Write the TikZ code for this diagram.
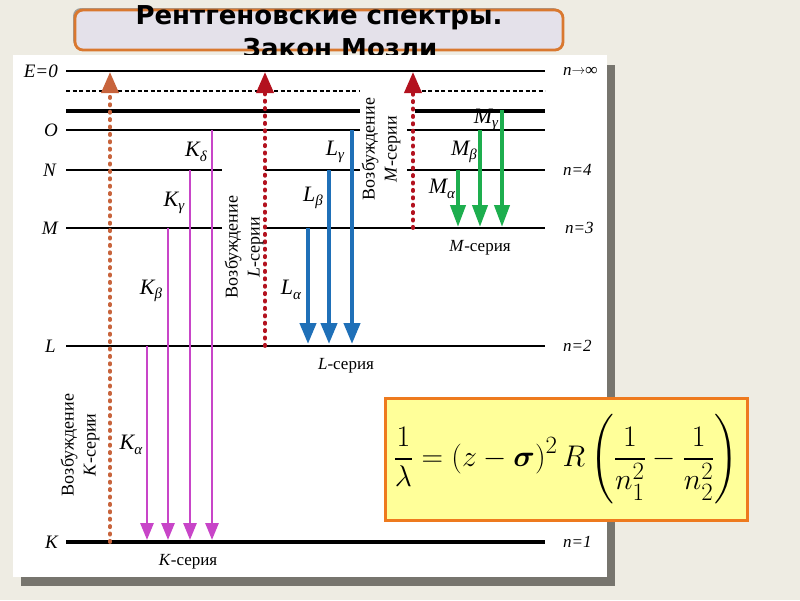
\documentclass[tikz,border=0pt]{standalone}
\usepackage{fontspec}
\usepackage{amsmath}
\usepackage{graphicx}
\setmainfont{Liberation Serif}
\newfontfamily\titlefont{DejaVu Sans}
\usetikzlibrary{arrows.meta}
\definecolor{bgbeige}{HTML}{EEECE3}
\definecolor{shadowgray}{HTML}{77756E}
\definecolor{titlefill}{HTML}{E4E1EA}
\definecolor{titleborder}{HTML}{D9782F}
\definecolor{kexc}{HTML}{C8643C}
\definecolor{lexc}{HTML}{B3121F}
\definecolor{kcol}{HTML}{C845C8}
\definecolor{lcol}{HTML}{1F70B8}
\definecolor{mcol}{HTML}{1DAE4E}
\definecolor{fyellow}{HTML}{FFFF99}
\definecolor{forange}{HTML}{EE7A1E}
\newcommand{\lvsub}[1]{\raisebox{-0.45ex}{\fontsize{15}{15}\selectfont\itshape #1}}
\begin{document}
\begin{tikzpicture}[x=1pt,y=-1pt,
  level/.style={line width=2.8pt,black},
  thicklevel/.style={line width=4pt,black},
  dashlevel/.style={line width=1.4pt,black,dash pattern=on 4pt off 2.5pt},
  lvlabel/.style={font=\fontsize{19}{19}\selectfont\itshape,anchor=east,inner sep=0pt},
  nlabel/.style={font=\fontsize{17}{17}\selectfont\itshape,anchor=west,inner sep=0pt},
  trlabel/.style={font=\fontsize{22}{22}\selectfont\itshape,inner sep=0pt},
  serlabel/.style={font=\fontsize{17}{17}\selectfont,inner sep=0pt},
  rotlabel/.style={font=\fontsize{18}{22}\selectfont,rotate=90,align=center,inner sep=0pt},
  karrow/.style={kcol,line width=2.8pt,-{Triangle[width=13pt,length=17pt]}},
  larrow/.style={lcol,line width=4.2pt,-{Triangle[width=16pt,length=21pt]}},
  marrow/.style={mcol,line width=4pt,-{Triangle[width=15pt,length=22pt]}},
  excarrow/.style={line width=3.8pt,line cap=round,dash pattern=on 1.2pt off 6.2pt,-{Triangle[width=17pt,length=21pt,line cap=butt]}},
]
\useasboundingbox (0,0) rectangle (800,600);
\fill[bgbeige] (0,0) rectangle (800,600);
% title
\fill[shadowgray!70,rounded corners=8pt] (73,8) rectangle (561,48);
\draw[titleborder,fill=titlefill,line width=2.8pt,rounded corners=8pt] (75,10) rectangle (563,50);
\node (title1) [font=\titlefont\bfseries\fontsize{26}{26}\selectfont,inner sep=0pt] at (319,18) {Рентгеновские спектры.};
\node (title2) [font=\titlefont\bfseries\fontsize{26}{26}\selectfont,inner sep=0pt] at (340,48) {Закон Мозли};
% panel
\fill[shadowgray] (21,65) rectangle (615,586);
\fill[white] (13,55) rectangle (607,577);
% levels
\draw[level] (66,71) -- (545,71);
\draw[dashlevel] (66,91) -- (360,91);
\draw[dashlevel] (415,91) -- (545,91);
\draw[thicklevel] (66,111) -- (360,111);
\draw[thicklevel] (415,111) -- (545,111);
\draw[level] (66,130) -- (360,130);
\draw[level] (407,130) -- (545,130);
\draw[level] (66,170) -- (222,170);
\draw[level] (265,170) -- (360,170);
\draw[level] (407,170) -- (545,170);
\draw[level] (66,228) -- (222,228);
\draw[level] (265,228) -- (545,228);
\draw[level] (66,346) -- (545,346);
\draw[thicklevel] (66,542) -- (545,542);
% left labels
\node (lE) [lvlabel] at (58,71) {E=0};
\node (lO) [lvlabel] at (58,130) {O};
\node (lN) [lvlabel] at (56,170) {N};
\node (lM) [lvlabel] at (58,228) {M};
\node (lL) [lvlabel] at (56,346) {L};
\node (lK) [lvlabel] at (58,542) {K};
% right labels
\node (n8) [nlabel] at (563,71) {n\raisebox{0.1ex}{\fontfamily{DejaVu Sans}\selectfont\upshape\fontsize{14}{14}\selectfont →}∞};
\node (n4) [nlabel] at (563,170) {n=4};
\node (n3) [nlabel] at (565,228) {n=3};
\node (n2) [nlabel] at (563,346) {n=2};
\node (n1) [nlabel] at (563,542) {n=1};
% coordinates
\coordinate (ka1) at (147,346); \coordinate (ka2) at (147,540);
\coordinate (kb1) at (168,228); \coordinate (kb2) at (168,540);
\coordinate (kg1) at (190,170); \coordinate (kg2) at (190,540);
\coordinate (kd1) at (212,130); \coordinate (kd2) at (212,540);
\coordinate (la1) at (308,228); \coordinate (la2) at (308,344);
\coordinate (lb1) at (329,170); \coordinate (lb2) at (329,344);
\coordinate (lg1) at (352,130); \coordinate (lg2) at (352,344);
\coordinate (ma1) at (458,170); \coordinate (ma2) at (458,227);
\coordinate (mb1) at (480,130); \coordinate (mb2) at (480,227);
\coordinate (mg1) at (502,110); \coordinate (mg2) at (502,227);
\coordinate (ek1) at (110,542); \coordinate (ek2) at (110,72);
\coordinate (el1) at (265,346); \coordinate (el2) at (265,72);
\coordinate (em1) at (413,228); \coordinate (em2) at (413,72);
% K series
\draw[karrow] (ka1) -- (ka2);
\draw[karrow] (kb1) -- (kb2);
\draw[karrow] (kg1) -- (kg2);
\draw[karrow] (kd1) -- (kd2);
% L series
\draw[larrow] (la1) -- (la2);
\draw[larrow] (lb1) -- (lb2);
\draw[larrow] (lg1) -- (lg2);
% M series
\draw[marrow] (ma1) -- (ma2);
\draw[marrow] (mb1) -- (mb2);
\draw[marrow] (mg1) -- (mg2);
% excitation
\draw[excarrow,kexc] (ek1) -- (ek2);
\draw[excarrow,lexc] (el1) -- (el2);
\draw[excarrow,lexc] (em1) -- (em2);
% transition labels
\node (tkd) [trlabel] at (196,152) {K\lvsub{δ}};
\node (tkg) [trlabel] at (174,203) {K\lvsub{γ}};
\node (tkb) [trlabel] at (151,291) {K\lvsub{β}};
\node (tka) [trlabel] at (131,445) {K\lvsub{α}};
\node (tlg) [trlabel] at (335,152) {L\lvsub{γ}};
\node (tlb) [trlabel] at (313,198) {L\lvsub{β}};
\node (tla) [trlabel] at (291,290) {L\lvsub{α}};
\node (tmg) [trlabel] at (486,120) {M\lvsub{γ}};
\node (tmb) [trlabel] at (464,152) {M\lvsub{β}};
\node (tma) [trlabel] at (442,189) {M\lvsub{α}};
% series labels
\node (sK) [serlabel] at (188,562) {\textit{K}-серия};
\node (sL) [serlabel] at (346,366) {\textit{L}-серия};
\node (sM) [serlabel] at (480,248) {\textit{M}-серия};
% rotated labels
\node (rK) [rotlabel] at (80,445) {Возбуждение\\\textit{K}-серии};
\node (rL) [rotlabel] at (244,247) {Возбуждение\\\textit{L}-серии};
\node (rM) [rotlabel] at (381,149) {Возбуждение\\\textit{M}-серии};
% formula
\draw[forange,fill=fyellow,line width=3pt] (385,398) rectangle (747,520);
\node (formula) [inner sep=0pt,font=\fontsize{24.88}{30}\selectfont] at (566,459)
  {\scalebox{1.2}{$\dfrac{1}{\lambda}=\left(z-\boldsymbol{\sigma}\right)^2 R\left(\dfrac{1}{n_1^2}-\dfrac{1}{n_2^2}\right)$}};
\end{tikzpicture}
\end{document}
